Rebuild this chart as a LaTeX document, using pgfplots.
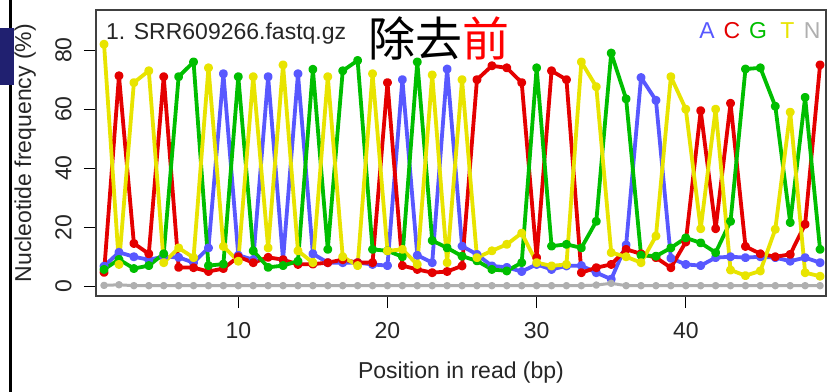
\documentclass[border=0pt]{standalone}
\usepackage{pgfplots}
\pgfplotsset{compat=1.18}
\usepackage{pgfplotstable}
\usepackage{fontspec}
\setmainfont{Liberation Sans}
\newfontfamily\cjk{Noto Sans CJK SC}
\definecolor{cA}{RGB}{88,88,255}
\definecolor{cC}{RGB}{228,0,0}
\definecolor{cG}{RGB}{0,190,0}
\definecolor{cT}{RGB}{232,228,0}
\definecolor{cN}{RGB}{175,175,175}
\definecolor{navy}{RGB}{32,32,112}
\pgfplotstableread{
pos A C G T N
1 6.8 4.7 5.7 82 0.3
2 11.5 71.3 9.1 7.4 0.5
3 10 14.5 6 69 0.2
4 9 11 7 73 0.2
5 10 71 11 8 0.2
6 9.8 6.4 71 13 0.2
7 8 6.3 76 9.7 0.2
8 13 5 7 74 0.2
9 72 6 7.5 13.5 0.2
10 10.5 10 71 8.5 0.2
11 9 8 12 71 0.2
12 71 9.8 6.4 13 0.2
13 9 9 7 75 0.2
14 72 7.4 8.5 12 0.2
15 11 7.5 73.5 8 0.2
16 8 8 12.5 71 0.2
17 8 9 73 10 0.2
18 8 8 76.5 7 0.2
19 7.4 8 12.5 72 0.2
20 7 69 12 12 0.2
21 70 7 10 12.5 0.2
22 10.5 5.7 76 7.4 0.2
23 8 4.6 15.5 71.6 0.2
24 73.6 5 13 8 0.2
25 13.6 6.9 10.2 70 0.2
26 10.8 70 8.6 9.7 0.2
27 6.9 74.7 5.7 12 0.2
28 6.4 74 5.2 14.2 0.2
29 5 69 8 18 0.2
30 7.4 9.7 74 8 0.2
31 5.7 73 13.6 6.9 0.2
32 6.9 70 14.2 7.4 0.2
33 7 4.6 13 76 0.2
34 4.6 6.3 22 67.6 0.4
35 2.4 7.4 79 11.4 1.0
36 14 12.5 63.5 10 0.2
37 70.7 11 10.5 8 0.2
38 63 9.7 10.2 17 0.2
39 9.5 6.3 13 71 0.2
40 7.4 15 16.4 60 0.2
41 7 59.5 14.7 19.5 0.2
42 9.7 19.5 11.4 60 0.2
43 10 62 22 5.5 0.2
44 9.7 13.5 73.6 3.6 0.2
45 10 11 74 5.2 0.2
46 9.7 10 61 19.3 0.2
47 8.5 10.8 21.6 59 0.2
48 9.7 21 64 4.6 0.2
49 8 75 12.5 3.4 0.2
}\nuc
\begin{document}
\begin{tikzpicture}
\useasboundingbox (0,0) rectangle (827bp,392bp);
\fill[white] (0,0) rectangle (827bp,392bp);
\fill[black] (8.5bp,0) rectangle (11.5bp,392bp);
\fill[navy] (0,307bp) rectangle (14bp,364bp);
\begin{axis}[
  at={(96bp,96bp)}, anchor=south west,
  scale only axis, width=730bp, height=286bp,
  xmin=0.46, xmax=49.4, ymin=-3.3, ymax=93.6,
  xtick={10,20,30,40}, ytick={0,20,40,60,80},
  xtick pos=bottom, ytick pos=left,
  tick align=outside, major tick length=12bp,
  tick style={black, line width=1bp},
  axis line style={black!75, line width=1.2bp},
  /pgf/number format/assume math mode=true,
  font=\fontsize{23bp}{27bp}\selectfont,
  ticklabel style={font=\fontsize{23bp}{27bp}\selectfont, text=black!85},
  yticklabel style={rotate=90, anchor=south, yshift=9bp},
  xticklabel style={anchor=north, yshift=-11bp},
  xlabel={Position in read (bp)},
  ylabel={Nucleotide frequency (\%)},
  xlabel style={at={(axis description cs:0.5,-0.266)}, anchor=center, text=black!85},
  ylabel style={at={(axis description cs:-0.097,0.5)}, anchor=center, rotate=0, text=black!85},
  every axis plot/.append style={line width=3.8bp, line join=round, line cap=round, mark=*, mark size=2.6bp},
  clip=false,
]
\addplot[color=cA, mark options={fill=cA, draw=cA}] table[x=pos, y=A] {\nuc};
\addplot[color=cC, mark options={fill=cC, draw=cC}] table[x=pos, y=C] {\nuc};
\addplot[color=cG, mark options={fill=cG, draw=cG}] table[x=pos, y=G] {\nuc};
\addplot[color=cT, mark options={fill=cT, draw=cT}] table[x=pos, y=T] {\nuc};
\addplot[color=cN, line width=3bp, mark size=2.2bp, mark options={fill=cN, draw=cN}] table[x=pos, y=N] {\nuc};
\node[anchor=base west, inner sep=0, text=black!85] at (rel axis cs:0.0137,0.8976) {1. SRR609266.fastq.gz};
\node[anchor=base, inner sep=0, text=cA] at (rel axis cs:0.837,0.901) {A};
\node[anchor=base, inner sep=0, text=cC] at (rel axis cs:0.871,0.901) {C};
\node[anchor=base, inner sep=0, text=cG] at (rel axis cs:0.907,0.901) {G};
\node[anchor=base, inner sep=0, text=cT] at (rel axis cs:0.947,0.901) {T};
\node[anchor=base, inner sep=0, text=cN] at (rel axis cs:0.981,0.901) {N};
\node[anchor=west, inner sep=0] at (rel axis cs:0.373,0.899) {\fontsize{47bp}{50bp}\selectfont\cjk 除去\textcolor{red}{前}};
\end{axis}
\end{tikzpicture}
\end{document}
